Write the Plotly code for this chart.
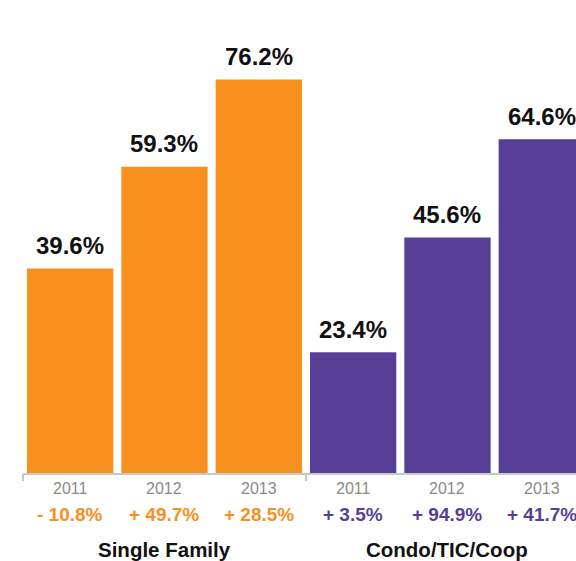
import plotly.graph_objects as go

# Share values by year for each property type
years = ["2011", "2012", "2013"]
groups = ["Single Family", "Condo/TIC/Coop"]
single_family = [39.6, 59.3, 76.2]
condo = [23.4, 45.6, 64.6]
sf_change = ["- 10.8%", "+ 49.7%", "+ 28.5%"]
condo_change = ["+ 3.5%", "+ 94.9%", "+ 41.7%"]

ORANGE = "#F7901E"
PURPLE = "#573F98"
FONT = "Liberation Sans, Arial, Helvetica, sans-serif"

values = single_family + condo
colors = [ORANGE] * len(single_family) + [PURPLE] * len(condo)
changes = sf_change + condo_change
change_colors = colors
positions = list(range(len(values)))
year_labels = years + years

PLOT_H = 473  # plot area height in px (baseline of bars)


def px_to_paper(p):
    return (PLOT_H - p) / PLOT_H


fig = go.Figure()
fig.add_trace(go.Bar(
    x=positions, y=values,
    marker=dict(color=colors, line=dict(width=0)),
    hoverinfo="skip",
))

annotations = []
for x, v in zip(positions, values):
    annotations.append(dict(
        x=x, y=v, xref="x", yref="y", text=f"<b>{v:.1f}%</b>",
        showarrow=False, yanchor="middle", yshift=23,
        font=dict(family=FONT, size=24, color="#111111"),
    ))
for x, yl in zip(positions, year_labels):
    annotations.append(dict(
        x=x, y=px_to_paper(489), xref="x", yref="paper", text=yl,
        showarrow=False, yanchor="middle",
        font=dict(family=FONT, size=16, color="#8a8a8a"),
    ))
for x, c, col in zip(positions, changes, change_colors):
    annotations.append(dict(
        x=x, y=px_to_paper(514), xref="x", yref="paper", text=f"<b>{c}</b>",
        showarrow=False, yanchor="middle",
        font=dict(family=FONT, size=19, color=col),
    ))
for gx, g in zip([1, 4], groups):
    annotations.append(dict(
        x=gx, y=px_to_paper(549.5), xref="x", yref="paper", text=f"<b>{g}</b>",
        showarrow=False, yanchor="middle",
        font=dict(family=FONT, size=20.5, color="#111111"),
    ))

AXIS_COLOR = "#c8c8c8"
shapes = [
    dict(type="line", xref="x", yref="paper", x0=-0.5, x1=6.0,
         y0=px_to_paper(474), y1=px_to_paper(474),
         line=dict(color=AXIS_COLOR, width=2)),
]
for tx in [-0.5, 2.5, 5.5]:
    shapes.append(dict(type="line", xref="x", yref="paper", x0=tx, x1=tx,
                       y0=px_to_paper(474), y1=px_to_paper(481),
                       line=dict(color=AXIS_COLOR, width=2)))

fig.update_layout(
    width=576, height=561,
    margin=dict(l=0, r=0, t=0, b=561 - PLOT_H),
    paper_bgcolor="white", plot_bgcolor="white",
    bargap=0.085,
    showlegend=False,
    xaxis=dict(range=[-0.7437, 5.3626], visible=False, fixedrange=True),
    yaxis=dict(range=[0, PLOT_H / 5.165], visible=False, fixedrange=True),
    annotations=annotations,
    shapes=shapes,
)

fig.write_html("out.html")
